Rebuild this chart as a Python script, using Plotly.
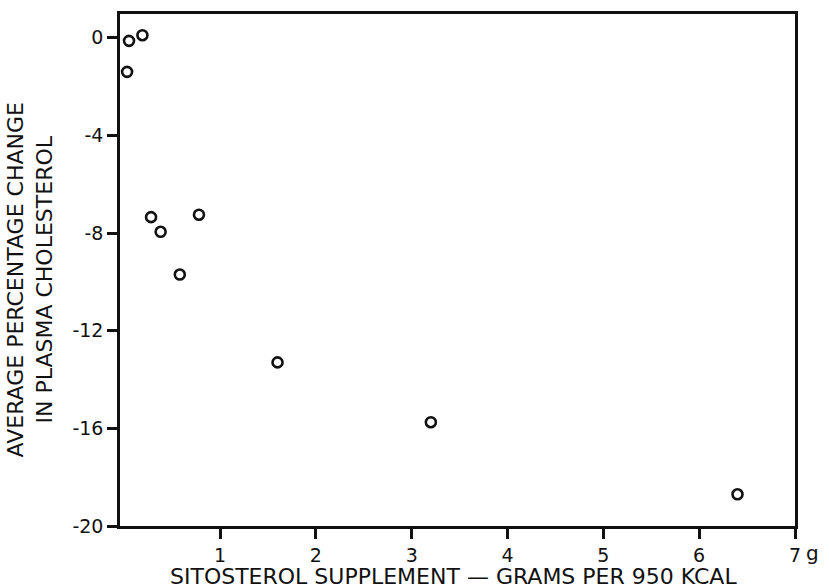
import plotly.graph_objects as go

# Sitosterol dose (g per 950 kcal) and mean % change in plasma cholesterol
dose_g = [0.05, 0.19, 0.03, 0.28, 0.38, 0.58, 0.78, 1.6, 3.2, 6.4]
pct_change = [-0.13, 0.1, -1.4, -7.35, -7.95, -9.7, -7.25, -13.3, -15.75, -18.7]

x_tick_vals = [1, 2, 3, 4, 5, 6, 7]
x_tick_text = ["1", "2", "3", "4", "5", "6", "7"]
y_tick_vals = [0, -4, -8, -12, -16, -20]
y_tick_text = ["0", "-4", "-8", "-12", "-16", "-20"]

FONT = "DejaVu Sans"
INK = "#111111"

fig = go.Figure()
fig.add_trace(go.Scatter(
    x=dose_g, y=pct_change, mode="markers",
    marker=dict(symbol="circle-open", size=10, color=INK, line=dict(width=2.6, color=INK)),
    showlegend=False, cliponaxis=False,
))

fig.update_layout(
    width=829, height=588,
    margin=dict(l=120, r=34, t=14, b=62),
    paper_bgcolor="white", plot_bgcolor="white",
    font=dict(family=FONT, color=INK, size=19),
    xaxis=dict(
        range=[-0.044, 7], showgrid=False, zeroline=False,
        showline=True, linecolor=INK, linewidth=2.5, mirror=True,
        tickmode="array", tickvals=x_tick_vals, ticktext=x_tick_text,
        ticks="outside", ticklen=10, tickwidth=2.5, tickcolor=INK,
        tickfont=dict(size=19, family=FONT),
    ),
    yaxis=dict(
        range=[-20, 0.97], showgrid=False, zeroline=False,
        showline=True, linecolor=INK, linewidth=2.5, mirror=True,
        tickmode="array", tickvals=y_tick_vals, ticktext=y_tick_text,
        ticks="outside", ticklen=10, tickwidth=2.5, tickcolor=INK,
        tickfont=dict(size=19, family=FONT),
    ),
    annotations=[
        dict(text="g", xref="paper", yref="paper", x=1.026, y=-0.053,
             xanchor="center", yanchor="middle", showarrow=False,
             font=dict(size=20, family=FONT, color=INK)),
        dict(text="SITOSTEROL SUPPLEMENT \u2014 GRAMS PER 950 KCAL",
             xref="paper", yref="paper", x=0.494, y=-0.0996,
             xanchor="center", yanchor="middle", showarrow=False,
             font=dict(size=22, family=FONT, color=INK)),
        dict(text="AVERAGE PERCENTAGE CHANGE<br>IN PLASMA CHOLESTEROL",
             xref="paper", yref="paper", x=-0.133, y=0.48,
             xanchor="center", yanchor="middle", showarrow=False, textangle=-90,
             font=dict(size=22, family=FONT, color=INK)),
    ],
)

fig.write_html("out.html")
